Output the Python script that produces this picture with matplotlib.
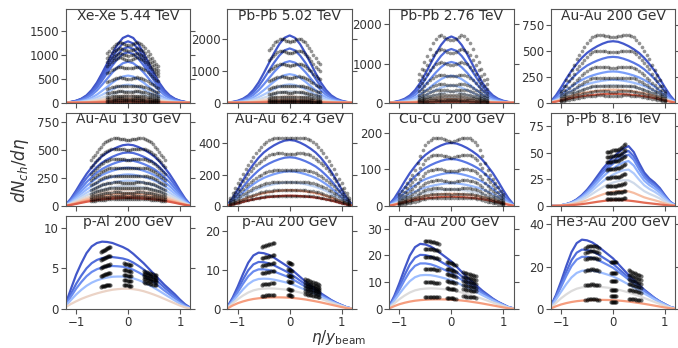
import numpy as np
import matplotlib
matplotlib.use("Agg")
import matplotlib.pyplot as plt

# ---------------- model grid ----------------
x_grid = np.linspace(-1.2, 1.2, 25)

# model shape profiles (normalised, read at x = -1.2 ... 1.2, step 0.1)
prof_lhc = [0.004, 0.012, 0.03, 0.06, 0.11, 0.19, 0.30, 0.44, 0.59, 0.74, 0.87, 0.965, 1.0,
            0.965, 0.87, 0.74, 0.59, 0.44, 0.30, 0.19, 0.11, 0.06, 0.03, 0.012, 0.004]
prof_rhic = [0.02, 0.12, 0.25, 0.39, 0.52, 0.63, 0.73, 0.81, 0.87, 0.92, 0.96, 0.99, 1.0,
             0.99, 0.96, 0.92, 0.87, 0.81, 0.73, 0.63, 0.52, 0.39, 0.25, 0.12, 0.02]
prof_ppb_central = [0.0, 0.005, 0.01, 0.03, 0.06, 0.11, 0.18, 0.27, 0.38, 0.50, 0.62, 0.72, 0.81,
                    0.89, 0.96, 1.0, 0.90, 0.72, 0.56, 0.46, 0.39, 0.30, 0.18, 0.07, 0.01]
prof_ppb_periph = [0.0, 0.02, 0.04, 0.08, 0.13, 0.20, 0.30, 0.42, 0.56, 0.70, 0.82, 0.93, 0.98,
                   1.0, 0.97, 0.90, 0.80, 0.68, 0.55, 0.45, 0.35, 0.25, 0.15, 0.06, 0.01]
prof_pal_central = [0.08, 0.30, 0.51, 0.68, 0.83, 0.93, 0.98, 1.0, 0.995, 0.98, 0.95, 0.92, 0.88,
                    0.82, 0.75, 0.68, 0.60, 0.52, 0.44, 0.36, 0.29, 0.22, 0.14, 0.07, 0.02]
prof_pal_periph = [0.10, 0.25, 0.38, 0.50, 0.60, 0.69, 0.77, 0.84, 0.90, 0.95, 0.98, 1.0, 1.0,
                   0.98, 0.94, 0.88, 0.80, 0.71, 0.61, 0.50, 0.39, 0.28, 0.17, 0.08, 0.02]
prof_xau_central = [0.04, 0.20, 0.40, 0.62, 0.82, 0.95, 1.0, 0.99, 0.96, 0.91, 0.85, 0.79, 0.73,
                    0.65, 0.57, 0.49, 0.42, 0.35, 0.28, 0.22, 0.16, 0.11, 0.07, 0.03, 0.01]
prof_xau_periph = [0.05, 0.30, 0.50, 0.65, 0.77, 0.86, 0.92, 0.96, 0.99, 1.0, 1.0, 0.99, 0.97,
                   0.93, 0.88, 0.82, 0.74, 0.66, 0.57, 0.47, 0.37, 0.27, 0.17, 0.08, 0.02]

# ---------------- model peaks, colour positions, asymmetry weights ----------------
xexe_peaks = [1410, 1290, 1170, 1060, 860, 570, 380, 245, 150, 88, 45, 20]
xexe_cpos = [0.0125, 0.0375, 0.0625, 0.0875, 0.15, 0.25, 0.35, 0.45, 0.55, 0.65, 0.75, 0.85]
pb502_peaks = [2120, 1710, 1310, 900, 580, 360, 205, 105, 50, 20]
pb502_cpos = [0.025, 0.075, 0.15, 0.25, 0.35, 0.45, 0.55, 0.65, 0.75, 0.85]
pb276_peaks = [1690, 1370, 1040, 690, 440, 280, 170, 95, 45, 18]
pb276_cpos = [0.025, 0.075, 0.15, 0.25, 0.35, 0.45, 0.55, 0.65, 0.75, 0.85]
au200_peaks = [590, 440, 300, 220, 170, 125, 85]
au200_cpos = [0.03, 0.10, 0.20, 0.30, 0.45, 0.65, 0.85]
au130_peaks = [545, 475, 405, 340, 280, 225, 180, 140, 110, 85, 70]
au130_cpos = [0.03, 0.08, 0.13, 0.2, 0.28, 0.36, 0.45, 0.55, 0.65, 0.75, 0.88]
au62_peaks = [420, 310, 220, 150, 100, 65]
au62_cpos = [0.03, 0.10, 0.20, 0.40, 0.70, 0.90]
cucu_peaks = [172, 128, 90, 62, 45, 33, 25]
cucu_cpos = [0.03, 0.10, 0.20, 0.30, 0.45, 0.65, 0.85]
ppb_peaks = [56, 51.5, 48, 42, 34, 24, 14, 5.5]
ppb_cpos = [0.025, 0.075, 0.15, 0.25, 0.35, 0.45, 0.65, 0.85]
ppb_w = [1.0, 1.0, 0.95, 0.9, 0.8, 0.6, 0.4, 0.0]
pal_peaks = [8.3, 6.4, 5.3, 4.0, 2.5]
pal_cpos = [0.025, 0.075, 0.15, 0.30, 0.56]
pal_w = [1.0, 0.7, 0.6, 0.4, 0.0]
pau_peaks = [14.5, 12.1, 10.2, 7.8, 5.3, 3.0]
pau_cpos = [0.025, 0.075, 0.15, 0.30, 0.50, 0.74]
dau_peaks = [24.3, 20.2, 17.0, 12.7, 7.7, 3.6]
dau_cpos = [0.025, 0.075, 0.15, 0.30, 0.50, 0.74]
he3_peaks = [32.7, 28.0, 24.6, 18.2, 10.6, 4.3]
he3_cpos = [0.025, 0.075, 0.15, 0.30, 0.50, 0.74]
xau_w = [1.0, 0.9, 0.8, 0.6, 0.3, 0.0]

# ---------------- measured data ----------------
# ALICE-type (Xe-Xe, Pb-Pb 5.02)
alice_x = np.linspace(-0.40, 0.58, 25)
alice_prof = [0.82, 0.86, 0.90, 0.94, 0.97, 0.99, 1.0, 0.99, 0.97, 0.955, 0.95, 0.955, 0.97,
              0.99, 1.0, 0.99, 0.97, 0.94, 0.90, 0.85, 0.80, 0.74, 0.69, 0.64, 0.60]
xexe_levels = [1270, 1150, 1040, 950, 760, 530, 360, 240, 150, 90, 50, 22]
pb502_levels = [2020, 1640, 1230, 830, 540, 335, 195, 100, 48, 20]
pb276_x = np.linspace(-0.63, 0.69, 25)
pb276_prof = [0.42, 0.50, 0.60, 0.70, 0.80, 0.88, 0.95, 0.99, 1.0, 0.98, 0.95, 0.93, 0.93,
              0.95, 0.98, 1.0, 0.99, 0.95, 0.88, 0.80, 0.70, 0.60, 0.50, 0.42, 0.35]
pb276_levels = [1720, 1370, 1030, 720, 480, 330, 220, 140, 80, 35]
# PHOBOS-type (half profiles, mirrored)
au200_half = [0.97, 0.975, 0.98, 0.99, 1.0, 1.0, 1.0, 0.99, 0.97, 0.93, 0.88, 0.82, 0.76,
              0.70, 0.64, 0.56, 0.48, 0.41, 0.33, 0.25, 0.18]
au200_xmax = 1.0
au200_levels = [650, 500, 345, 240, 165, 110, 70]
au130_half = [0.98, 0.98, 0.985, 0.99, 0.995, 1.0, 1.0, 1.0, 0.99, 0.98, 0.96, 0.94, 0.91,
              0.88, 0.84, 0.80, 0.76, 0.72, 0.68]
au130_xmax = 0.72
au130_levels = [600, 510, 420, 340, 270, 210, 160, 120, 85, 60]
au62_half = [0.99, 0.99, 0.995, 1.0, 1.0, 1.0, 0.99, 0.98, 0.96, 0.93, 0.90, 0.86, 0.82,
             0.77, 0.72, 0.66, 0.60, 0.54, 0.47, 0.40, 0.33, 0.26, 0.19, 0.12]
au62_xmax = 1.15
au62_levels = [435, 335, 230, 155, 100, 65]
cucu_half = [0.94, 0.95, 0.965, 0.98, 0.995, 1.0, 1.0, 0.99, 0.97, 0.94, 0.89, 0.82, 0.73,
             0.63, 0.53, 0.46, 0.40, 0.34, 0.28, 0.22, 0.17]
cucu_xmax = 1.0
cucu_levels = [186, 140, 100, 70, 48, 33, 22]
# p-Pb
ppb_x = np.linspace(-0.12, 0.24, 13)
ppb_shape = [0.97, 0.975, 0.98, 0.99, 1.0, 1.0, 1.005, 1.01, 1.02, 1.04, 1.06, 1.09, 1.12]
ppb_levels = [52, 47, 42, 35, 27, 19, 12.5, 6.5]
# small systems: backward / mid / forward clusters
pal_back_x = [-0.53, -0.51, -0.49, -0.47, -0.45, -0.43, -0.41, -0.39, -0.37, -0.35]
pal_back_shape = [0.95, 0.96, 0.97, 0.98, 0.99, 1.0, 1.01, 1.02, 1.025, 1.03]
pal_back_levels = [7.4, 6.4, 5.35, 4.3, 2.9]
pal_mid_x = [-0.07, -0.05, -0.03, -0.01, 0.01, 0.03, 0.05]
pal_mid_shape = [1.02, 1.015, 1.01, 1.0, 0.995, 0.99, 0.98]
pal_mid_levels = [5.5, 4.7, 4.1, 3.5, 2.9]
pal_fwd_x = [0.30, 0.33, 0.36, 0.39, 0.42, 0.45, 0.48, 0.51, 0.54]
pal_fwd_shape = [1.06, 1.045, 1.03, 1.015, 1.0, 0.985, 0.97, 0.955, 0.94]
pal_fwd_levels = [4.4, 4.1, 3.8, 3.5, 3.1]

pau_back_x = [-0.54, -0.51, -0.48, -0.45, -0.42, -0.39, -0.36, -0.33, -0.30]
pau_back_shape = [0.97, 0.978, 0.986, 0.994, 1.0, 1.008, 1.016, 1.024, 1.03]
pau_back_levels = [16.5, 13.5, 11.5, 9.5, 6.5, 3.5]
pau_mid_x = [-0.03, -0.015, 0.0, 0.015, 0.03, 0.045]
pau_mid_shape = [1.02, 1.01, 1.0, 0.995, 0.99, 0.98]
pau_mid_levels = [11.8, 10.0, 8.5, 7.0, 5.0, 3.5]
pau_fwd_x = [0.30, 0.33, 0.36, 0.39, 0.42, 0.45, 0.48, 0.51, 0.54, 0.57]
pau_fwd_shape = [1.10, 1.08, 1.05, 1.03, 1.01, 0.99, 0.96, 0.94, 0.91, 0.89]
pau_fwd_levels = [7.0, 6.2, 5.6, 5.0, 4.3, 3.5]

dau_back_x = [-0.51, -0.48, -0.45, -0.42, -0.39, -0.36, -0.33, -0.30, -0.27, -0.24]
dau_back_shape = [1.0, 1.0, 1.0, 0.997, 0.993, 0.99, 0.985, 0.98, 0.97, 0.96]
dau_back_levels = [25.3, 22.5, 19.5, 15.0, 10.0, 4.5]
dau_mid_x = [-0.09, -0.065, -0.04, -0.015, 0.01, 0.035, 0.06, 0.085]
dau_mid_shape = [1.04, 1.03, 1.02, 1.01, 1.0, 0.99, 0.975, 0.96]
dau_mid_levels = [17.0, 14.5, 12.5, 10.0, 7.5, 4.0]
dau_fwd_x = [0.23, 0.26, 0.29, 0.32, 0.35, 0.38, 0.41, 0.44, 0.47]
dau_fwd_shape = [1.05, 1.04, 1.02, 1.01, 1.0, 0.985, 0.97, 0.955, 0.94]
dau_fwd_levels = [13.0, 11.5, 10.0, 8.5, 7.0, 4.5]

he3_back_x = [-0.54, -0.51, -0.48, -0.45, -0.42, -0.39, -0.36, -0.33, -0.30, -0.27]
he3_back_shape = [0.98, 0.99, 1.0, 1.005, 1.01, 1.01, 1.005, 1.0, 0.99, 0.98]
he3_back_levels = [29.5, 27.0, 24.0, 18.5, 11.5, 4.5]
he3_mid_x = [-0.04, -0.02, 0.0, 0.02, 0.04, 0.06]
he3_mid_shape = [1.0, 1.0, 1.0, 1.0, 1.0, 1.0]
he3_mid_levels = [22.0, 17.0, 13.0, 9.0, 6.0, 3.5]
he3_fwd_x = [0.30, 0.33, 0.36, 0.39, 0.42, 0.45, 0.48, 0.51, 0.54]
he3_fwd_shape = [1.08, 1.06, 1.03, 1.01, 1.0, 0.98, 0.95, 0.93, 0.91]
he3_fwd_levels = [17.0, 15.0, 13.0, 11.0, 8.5, 4.5]

titles = ["Xe-Xe 5.44 TeV", "Pb-Pb 5.02 TeV", "Pb-Pb 2.76 TeV", "Au-Au 200 GeV",
          "Au-Au 130 GeV", "Au-Au 62.4 GeV", "Cu-Cu 200 GeV", "p-Pb 8.16 TeV",
          "p-Al 200 GeV", "p-Au 200 GeV", "d-Au 200 GeV", "He3-Au 200 GeV"]
ytops = [1960, 2940, 2380, 895, 830, 595, 255, 87.5, 11.5, 24.0, 34.8, 44.0]
yticks = [[0, 500, 1000, 1500], [0, 1000, 2000], [0, 1000, 2000], [0, 250, 500, 750],
          [0, 250, 500, 750], [0, 200, 400], [0, 100, 200], [0, 25, 50, 75],
          [0, 5, 10], [0, 10, 20], [0, 10, 20, 30], [0, 20, 40]]
xticks = [-1, 0, 1]


def mirror(half, xmax):
    h = np.asarray(half)
    prof = np.concatenate([h[::-1], h[1:]])
    return np.linspace(-xmax, xmax, len(prof)), prof


models = [
    (prof_lhc, prof_lhc, xexe_peaks, xexe_cpos, None),
    (prof_lhc, prof_lhc, pb502_peaks, pb502_cpos, None),
    (prof_lhc, prof_lhc, pb276_peaks, pb276_cpos, None),
    (prof_rhic, prof_rhic, au200_peaks, au200_cpos, None),
    (prof_rhic, prof_rhic, au130_peaks, au130_cpos, None),
    (prof_rhic, prof_rhic, au62_peaks, au62_cpos, None),
    (prof_rhic, prof_rhic, cucu_peaks, cucu_cpos, None),
    (prof_ppb_central, prof_ppb_periph, ppb_peaks, ppb_cpos, ppb_w),
    (prof_pal_central, prof_pal_periph, pal_peaks, pal_cpos, pal_w),
    (prof_xau_central, prof_xau_periph, pau_peaks, pau_cpos, xau_w),
    (prof_xau_central, prof_xau_periph, dau_peaks, dau_cpos, xau_w),
    (prof_xau_central, prof_xau_periph, he3_peaks, he3_cpos, xau_w),
]

au200_x, au200_prof = mirror(au200_half, au200_xmax)
au130_x, au130_prof = mirror(au130_half, au130_xmax)
au62_x, au62_prof = mirror(au62_half, au62_xmax)
cucu_x, cucu_prof = mirror(cucu_half, cucu_xmax)

datasets = [
    [(alice_x, alice_prof, xexe_levels)],
    [(alice_x, alice_prof, pb502_levels)],
    [(pb276_x, pb276_prof, pb276_levels)],
    [(au200_x, au200_prof, au200_levels)],
    [(au130_x, au130_prof, au130_levels)],
    [(au62_x, au62_prof, au62_levels)],
    [(cucu_x, cucu_prof, cucu_levels)],
    [(ppb_x, ppb_shape, ppb_levels)],
    [(pal_back_x, pal_back_shape, pal_back_levels), (pal_mid_x, pal_mid_shape, pal_mid_levels),
     (pal_fwd_x, pal_fwd_shape, pal_fwd_levels)],
    [(pau_back_x, pau_back_shape, pau_back_levels), (pau_mid_x, pau_mid_shape, pau_mid_levels),
     (pau_fwd_x, pau_fwd_shape, pau_fwd_levels)],
    [(dau_back_x, dau_back_shape, dau_back_levels), (dau_mid_x, dau_mid_shape, dau_mid_levels),
     (dau_fwd_x, dau_fwd_shape, dau_fwd_levels)],
    [(he3_back_x, he3_back_shape, he3_back_levels), (he3_mid_x, he3_mid_shape, he3_mid_levels),
     (he3_fwd_x, he3_fwd_shape, he3_fwd_levels)],
]
small_system = [False] * 7 + [True] * 5

# ---------------- drawing ----------------
txt = "#333333"
edge = "#555555"
cmap = plt.get_cmap("coolwarm")

fig, axes = plt.subplots(3, 4, figsize=(6.78, 3.48), dpi=100)
fig.subplots_adjust(left=0.097, right=0.996, top=0.973, bottom=0.112,
                    wspace=0.298, hspace=0.105)

for k, ax in enumerate(axes.flat):
    cen, per, peaks, cpos, w = models[k]
    cen = np.asarray(cen, float)
    per = np.asarray(per, float)
    for i, (pk, cp) in enumerate(zip(peaks, cpos)):
        wi = 1.0 if w is None else w[i]
        prof = wi * cen + (1 - wi) * per
        prof = prof / prof.max()
        ax.plot(x_grid, pk * prof, color=cmap(cp), lw=1.6, zorder=2)
    for xs, shape, levels in datasets[k]:
        xs = np.asarray(xs, float)
        shape = np.asarray(shape, float)
        for lev in levels:
            if small_system[k]:
                ax.scatter(xs, lev * shape, s=9, c="k", alpha=0.55, linewidths=0, zorder=3)
            else:
                ax.scatter(xs, lev * shape, s=7, c="k", alpha=0.42, linewidths=0, zorder=3)
    ax.set_xlim(-1.2, 1.2)
    ax.set_ylim(0, ytops[k])
    ax.set_yticks(yticks[k])
    ax.set_xticks(xticks)
    ax.tick_params(axis="both", which="both", direction="out", length=3.5, width=0.8,
                   colors=edge, labelcolor=txt, labelsize=8.5, pad=1.5)
    ax.tick_params(axis="y", right=True, left=True)
    if k < 8:
        ax.tick_params(axis="x", labelbottom=False)
    for sp in ax.spines.values():
        sp.set_color(edge)
        sp.set_linewidth(0.8)
    ax.text(0.5, 0.886, titles[k], transform=ax.transAxes, ha="center", va="baseline",
            fontsize=10, color=txt, zorder=5)

fig.text(0.03, 0.51, r"$dN_{ch}/d\eta$", rotation=90, ha="center", va="center",
         fontsize=12, color=txt)
fig.text(0.5, 0.004, r"$\eta/y_{\mathrm{beam}}$", ha="center", va="bottom",
         fontsize=11, color=txt)

fig.savefig("out.png", dpi=100)
